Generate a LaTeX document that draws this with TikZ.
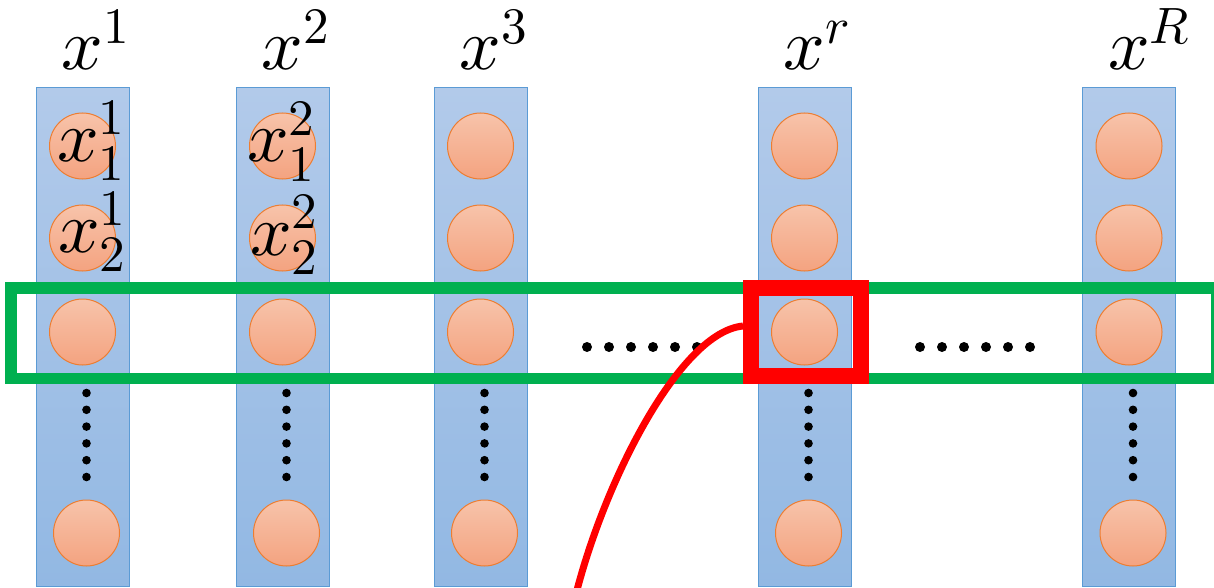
\documentclass[tikz,border=0pt]{standalone}
\usepackage{unicode-math}
\setmathfont{Latin Modern Math}
\definecolor{colTop}{RGB}{178,202,234}
\definecolor{colBot}{RGB}{146,184,227}
\definecolor{colEdge}{RGB}{91,155,213}
\definecolor{cirTop}{RGB}{247,195,170}
\definecolor{cirBot}{RGB}{244,163,128}
\definecolor{cirEdge}{RGB}{237,125,49}
\definecolor{grn}{RGB}{0,176,80}
\definecolor{rd}{RGB}{255,0,0}
\begin{document}
\begin{tikzpicture}[x=1pt,y=-1pt,
  colbox/.style={draw=colEdge,line width=0.9pt,top color=colTop,bottom color=colBot,
    minimum width=93pt,minimum height=499pt,inner sep=0pt,anchor=north},
  cnode/.style={circle,draw=cirEdge,line width=1pt,top color=cirTop,bottom color=cirBot,
    minimum size=66pt,inner sep=0pt},
  lbl/.style={anchor=base west,inner sep=0pt,font=\fontsize{73}{76}\selectfont},
  vdot/.style={circle,fill=black,inner sep=0pt,minimum size=8.6pt},
  hdot/.style={circle,fill=black,inner sep=0pt,minimum size=10pt},
  greenbox/.style={draw=grn,line width=11.5pt,minimum width=1206pt,minimum height=90.5pt,inner sep=0pt},
  redbox/.style={draw=rd,line width=16pt,minimum width=109.8pt,minimum height=87.5pt,inner sep=0pt},
  redline/.style={draw=rd,line width=7pt}
]
\useasboundingbox (0,0) rectangle (1214,588);
% columns
\foreach \n/\cx in {1/82.5,2/282.5,3/480.5,r/804.5,R/1129}{
  \node[colbox] (col\n) at (\cx,87) {};
  \node[cnode] (c\n a) at (\cx,146) {};
  \node[cnode] (c\n b) at (\cx,238) {};
  \node[cnode] (c\n c) at (\cx,332) {};
  \node[cnode] (c\n d) at (\cx+4,533) {};
  \foreach \k/\yy in {1/393,2/409.8,3/426.6,4/443.4,5/460.2,6/477}{
    \node[vdot] (v\n\k) at (\cx+4,\yy) {};
  }
}
% top labels
\node[lbl] (t1) at (61.5,70) {$x^{1}$};
\node[lbl] (t2) at (261.5,70) {$x^{2}$};
\node[lbl] (t3) at (459.5,70) {$x^{3}$};
\node[lbl] (tr) at (783.5,70) {$x^{r}$};
\node[lbl] (tR) at (1108,70) {$x^{R}$};
% circle labels
\node[lbl] (l11) at (57,161) {$x_{1}^{1}$};
\node[lbl] (l21) at (58,252) {$x_{2}^{1}$};
\node[lbl] (l12) at (247,162) {$x_{1}^{2}$};
\node[lbl] (l22) at (250,255) {$x_{2}^{2}$};
% green row box
\node[greenbox] (row) at (614,333.25) {};
% red box
\node[redbox] (sel) at (805.6,331.75) {};
% horizontal dots
\foreach \k/\xx in {1/587,2/609,3/631,4/653,5/675,6/697}{
  \node[hdot] (hl\k) at (\xx,347) {};
}
\foreach \k/\xx in {1/920,2/942,3/964,4/986,5/1008,6/1030}{
  \node[hdot] (hr\k) at (\xx,347) {};
}
% red curve
\coordinate (cs) at (743,326);
\coordinate (ce) at (576,594);
\draw[redline] (cs) .. controls (680,332) and (605,480) .. (ce);
\end{tikzpicture}
\end{document}
